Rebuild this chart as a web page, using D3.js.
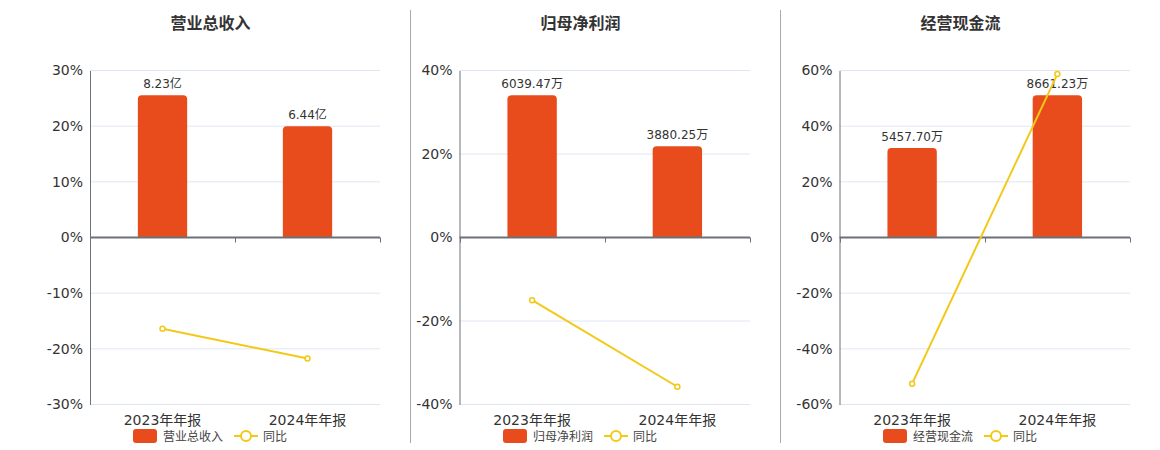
<!DOCTYPE html>
<html>
<head>
<meta charset="utf-8">
<script src="https://cdn.jsdelivr.net/npm/d3@7"></script>
<style>
  body { margin: 0; background: #fff; }
  svg { display: block; font-family: "DejaVu Sans", "Noto Sans CJK SC", sans-serif; }
</style>
</head>
<body>
<svg id="chart" width="1160" height="450"></svg>
<script>
// Data
const categories = ['2023年年报', '2024年年报'];
const titles = ['营业总收入', '归母净利润', '经营现金流'];

const revenueValues = [8.23, 6.44];        // 亿
const revenueYoy = [-16.4, -21.75];         // %
const profitValues = [6039.47, 3880.25];   // 万
const profitYoy = [-15.0, -35.75];
const cashValues = [5457.70, 8661.23];     // 万
const cashYoy = [-52.5, 58.7];

const units = ['亿', '万', '万'];
const revenueTicks = [-30, -20, -10, 0, 10, 20, 30];
const profitTicks = [-40, -20, 0, 20, 40];
const cashTicks = [-60, -40, -20, 0, 20, 40, 60];

const seriesValues = [revenueValues, profitValues, cashValues];
const seriesYoy = [revenueYoy, profitYoy, cashYoy];
const seriesTicks = [revenueTicks, profitTicks, cashTicks];

// Layout
const barColor = '#E84C1D';
const lineColor = '#F3C817';
const panelLeft = [90, 459.5, 839.5];
const panelRight = [380, 750, 1130];
const panelCenter = [210, 580, 960];
const plotTop = 70.5, plotBottom = 404.5;

const svg = d3.select('#chart');

// dividers
[410.5, 780.5].forEach(x => {
    svg.append('line')
        .attr('x1', x).attr('x2', x).attr('y1', 10).attr('y2', 443)
        .attr('stroke', '#aaa').attr('stroke-width', 1);
});

function roundedTop(x, y, w, h, r) {
    r = Math.min(r, h, w / 2);
    return `M${x},${y + h}V${y + r}Q${x},${y} ${x + r},${y}H${x + w - r}Q${x + w},${y} ${x + w},${y + r}V${y + h}Z`;
}

titles.forEach((title, i) => {
    const g = svg.append('g');
    const ticks = seriesTicks[i];
    const values = seriesValues[i];
    const yoy = seriesYoy[i];

    const y = d3.scaleLinear()
        .domain([d3.min(ticks), d3.max(ticks)])
        .range([plotBottom, plotTop]);

    const x = d3.scaleBand()
        .domain(categories)
        .range([panelLeft[i], panelRight[i]]);

    const zeroY = y(0);
    // hidden value axis for bars
    const yBar = d3.scaleLinear()
        .domain([0, d3.max(values) * 1.175])
        .range([zeroY, plotTop]);

    // title
    g.append('text')
        .attr('x', panelCenter[i] + 0.5).attr('y', 29)
        .attr('text-anchor', 'middle')
        .attr('font-size', 16).attr('font-weight', 'bold')
        .attr('fill', '#333')
        .text(title);

    // grid
    g.selectAll('.grid')
        .data(ticks)
        .join('line')
        .attr('x1', panelLeft[i]).attr('x2', panelRight[i])
        .attr('y1', d => y(d)).attr('y2', d => y(d))
        .attr('stroke', '#E0E6F1').attr('stroke-width', 1);

    // y axis
    const yAxis = g.append('g')
        .attr('transform', `translate(${panelLeft[i]},0)`)
        .call(d3.axisLeft(y).tickValues(ticks).tickSize(0).tickPadding(7).tickFormat(d => d + '%'));
    yAxis.select('.domain').attr('stroke', '#6E7079');
    yAxis.selectAll('text')
        .attr('font-size', 14).attr('fill', '#333')
        .attr('font-family', '"DejaVu Sans", sans-serif');

    // bars
    const bw = x.bandwidth() * 0.34;
    g.selectAll('.bar')
        .data(values)
        .join('path')
        .attr('fill', barColor)
        .attr('d', (d, j) => {
            const cx = x(categories[j]) + x.bandwidth() / 2;
            return roundedTop(cx - bw / 2, yBar(d), bw, zeroY - yBar(d), 4);
        });

    // bar labels
    g.selectAll('.bar-label')
        .data(values)
        .join('text')
        .attr('x', (d, j) => x(categories[j]) + x.bandwidth() / 2)
        .attr('y', d => yBar(d) - 7)
        .attr('text-anchor', 'middle')
        .attr('font-size', 12).attr('fill', '#333')
        .text(d => d3.format('.2f')(d) + units[i]);

    // zero axis with boundary ticks
    g.append('line')
        .attr('x1', panelLeft[i]).attr('x2', panelRight[i])
        .attr('y1', zeroY).attr('y2', zeroY)
        .attr('stroke', '#6E7079').attr('stroke-width', 2);
    const bounds = categories.map(c => x(c)).concat([panelRight[i]]);
    g.selectAll('.xtick')
        .data(bounds)
        .join('line')
        .attr('x1', d => Math.round(d) + 0.5).attr('x2', d => Math.round(d) + 0.5)
        .attr('y1', zeroY).attr('y2', zeroY + 5)
        .attr('stroke', '#6E7079').attr('stroke-width', 1);

    // category labels
    g.selectAll('.cat')
        .data(categories)
        .join('text')
        .attr('x', d => x(d) + x.bandwidth() / 2)
        .attr('y', 425)
        .attr('text-anchor', 'middle')
        .attr('font-size', 14).attr('fill', '#333')
        .text(d => d);

    // yoy line
    const line = d3.line()
        .x((d, j) => x(categories[j]) + x.bandwidth() / 2)
        .y(d => y(d));
    g.append('path')
        .datum(yoy)
        .attr('d', line)
        .attr('fill', 'none')
        .attr('stroke', lineColor).attr('stroke-width', 2);
    g.selectAll('.pt')
        .data(yoy)
        .join('circle')
        .attr('cx', (d, j) => x(categories[j]) + x.bandwidth() / 2)
        .attr('cy', d => y(d))
        .attr('r', 2.5)
        .attr('fill', '#fff')
        .attr('stroke', lineColor).attr('stroke-width', 1.5);

    // legend
    const cx = panelCenter[i];
    const lg = g.append('g').attr('transform', 'translate(0,436)');
    lg.append('rect')
        .attr('x', cx - 77).attr('y', -7).attr('width', 24).attr('height', 14)
        .attr('rx', 3).attr('fill', barColor);
    lg.append('text')
        .attr('x', cx - 47).attr('y', 4.5)
        .attr('font-size', 12).attr('fill', '#444')
        .text(title);
    lg.append('line')
        .attr('x1', cx + 24).attr('x2', cx + 48)
        .attr('stroke', lineColor).attr('stroke-width', 2);
    lg.append('circle')
        .attr('cx', cx + 36).attr('r', 5)
        .attr('fill', '#fff')
        .attr('stroke', lineColor).attr('stroke-width', 2);
    lg.append('text')
        .attr('x', cx + 53).attr('y', 4.5)
        .attr('font-size', 12).attr('fill', '#444')
        .text('同比');
});
</script>
</body>
</html>
